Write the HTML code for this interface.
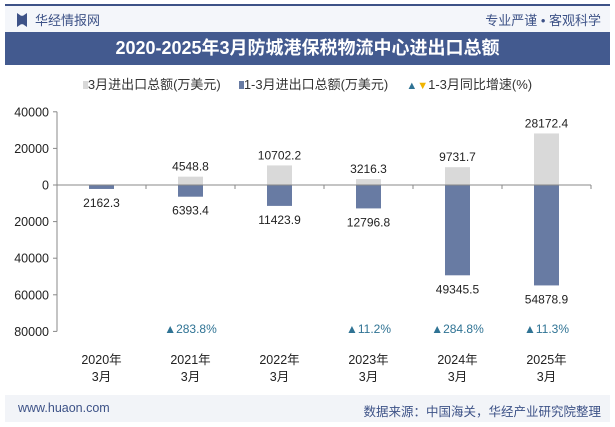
<!DOCTYPE html>
<html><head><meta charset="utf-8"><style>
body{margin:0;width:615px;height:427px;background:#fff;font-family:"Liberation Sans","Noto Sans CJK SC",sans-serif;position:relative;overflow:hidden}
.abs{position:absolute}
</style></head><body>
<div class="abs" style="left:5px;top:4px;width:605px;height:2px;background:#3d5287"></div>
<div class="abs" style="left:5px;top:6px;width:605px;height:26px;background:#f4f6fa"></div>
<div class="abs" style="left:17px;top:13px;width:10px;height:14px;background:#3d5287;clip-path:polygon(0 0,40% 20%,60% 20%,100% 0,100% 100%,60% 80%,40% 80%,0 100%)"></div>
<div class="abs" style="left:35px;top:10px;font-size:13px;color:#3d5287">华经情报网</div>
<div class="abs" style="right:14px;top:10px;font-size:13px;color:#3d5287">专业严谨 • 客观科学</div>
<div class="abs" style="left:5px;top:32px;width:605px;height:33px;background:#435a8f;color:#fff;font-size:18px;font-weight:bold;text-align:center;line-height:33px">2020-2025年3月防城港保税物流中心进出口总额</div>
<div class="abs" style="left:0;top:74px;width:615px;text-align:center;font-size:13px;color:#333">
<span><span style="display:inline-block;width:5px;height:8px;background:#d9d9d9"></span>3月进出口总额(万美元)</span>&nbsp;&nbsp;&nbsp;&nbsp;
<span><span style="display:inline-block;width:5px;height:8px;background:#687ba3"></span>1-3月进出口总额(万美元)</span>&nbsp;&nbsp;&nbsp;&nbsp;
<span><span style="color:#2f7394;font-size:11px">▲</span><span style="color:#f0b400;font-size:11px">▼</span>1-3月同比增速(%)</span>
</div>
<svg class="abs" style="left:0;top:0" width="615" height="427" id="chart"></svg>
<div class="abs" style="left:5px;top:395px;width:605px;height:27px;background:#f2f4f8"></div>
<div class="abs" style="left:18px;top:401px;font-size:12.5px;color:#3d5287">www.huaon.com</div>
<div class="abs" style="right:14px;top:401px;font-size:12.5px;color:#3d5287">数据来源：中国海关，华经产业研究院整理</div>
<script>
const categories=["2020年","2021年","2022年","2023年","2024年","2025年"];
const marchValues=[null,4548.8,10702.2,3216.3,9731.7,28172.4];
const q1Values=[2162.3,6393.4,11423.9,12796.8,49345.5,54878.9];
const growthValues=[null,283.8,null,11.2,284.8,11.3];
const yTicks=[40000,20000,0,-20000,-40000,-60000,-80000];
const tickLabels=["40000","20000","0","20000","40000","60000","80000"];
const svg=document.getElementById('chart');const NS='http://www.w3.org/2000/svg';
const x0=57,step=89,zeroY=185,k=36.6/20000;
const y=v=>zeroY-v*k;const cx=i=>x0+step*(i+0.5);
function mk(t,a,txt){const e=document.createElementNS(NS,t);for(const n in a)e.setAttribute(n,a[n]);if(txt!=null)e.textContent=txt;svg.appendChild(e);return e;}
let e=mk('line',{x1:x0,x2:x0,y1:y(40000),y2:y(-80000),stroke:'#888'});


yTicks.forEach((t,i)=>{let l=mk('line',{x1:x0-4,x2:x0,y1:y(t),y2:y(t),stroke:'#888'});


let tx=mk('text',{x:x0-8,y:y(t)+4.5,'text-anchor':'end','font-size':12.5,fill:'#222'},tickLabels[i]);

});
categories.forEach((c,i)=>{const x=cx(i),w=25;
if(marchValues[i]!=null){let r=mk('rect',{x:x-w/2,y:y(marchValues[i]),width:w,height:marchValues[i]*k,fill:'#d9d9d9'});


let t=mk('text',{x:x,y:y(marchValues[i])-6,'text-anchor':'middle','font-size':12,fill:'#222'},marchValues[i].toFixed(1));

}
let r=mk('rect',{x:x-w/2,y:zeroY,width:w,height:q1Values[i]*k,fill:'#687ba3'});


let t=mk('text',{x:x,y:y(-q1Values[i])+18,'text-anchor':'middle','font-size':12,fill:'#222'},q1Values[i].toFixed(1));


if(growthValues[i]!=null){let g=mk('text',{x:x,y:333,'text-anchor':'middle','font-size':12,fill:'#2f7394'},'▲'+growthValues[i].toFixed(1)+'%');

}
let a=mk('text',{x:x,y:364,'text-anchor':'middle','font-size':12.5,fill:'#222'},c);


let b=mk('text',{x:x,y:381,'text-anchor':'middle','font-size':12.5,fill:'#222'},'3月');

});
let z=mk('line',{x1:x0,x2:x0+step*6,y1:zeroY,y2:zeroY,stroke:'#888'});


for(let i=1;i<=6;i++){let l=mk('line',{x1:x0+step*i,x2:x0+step*i,y1:zeroY,y2:zeroY+4,stroke:'#888'});

}
</script>
</body></html>
